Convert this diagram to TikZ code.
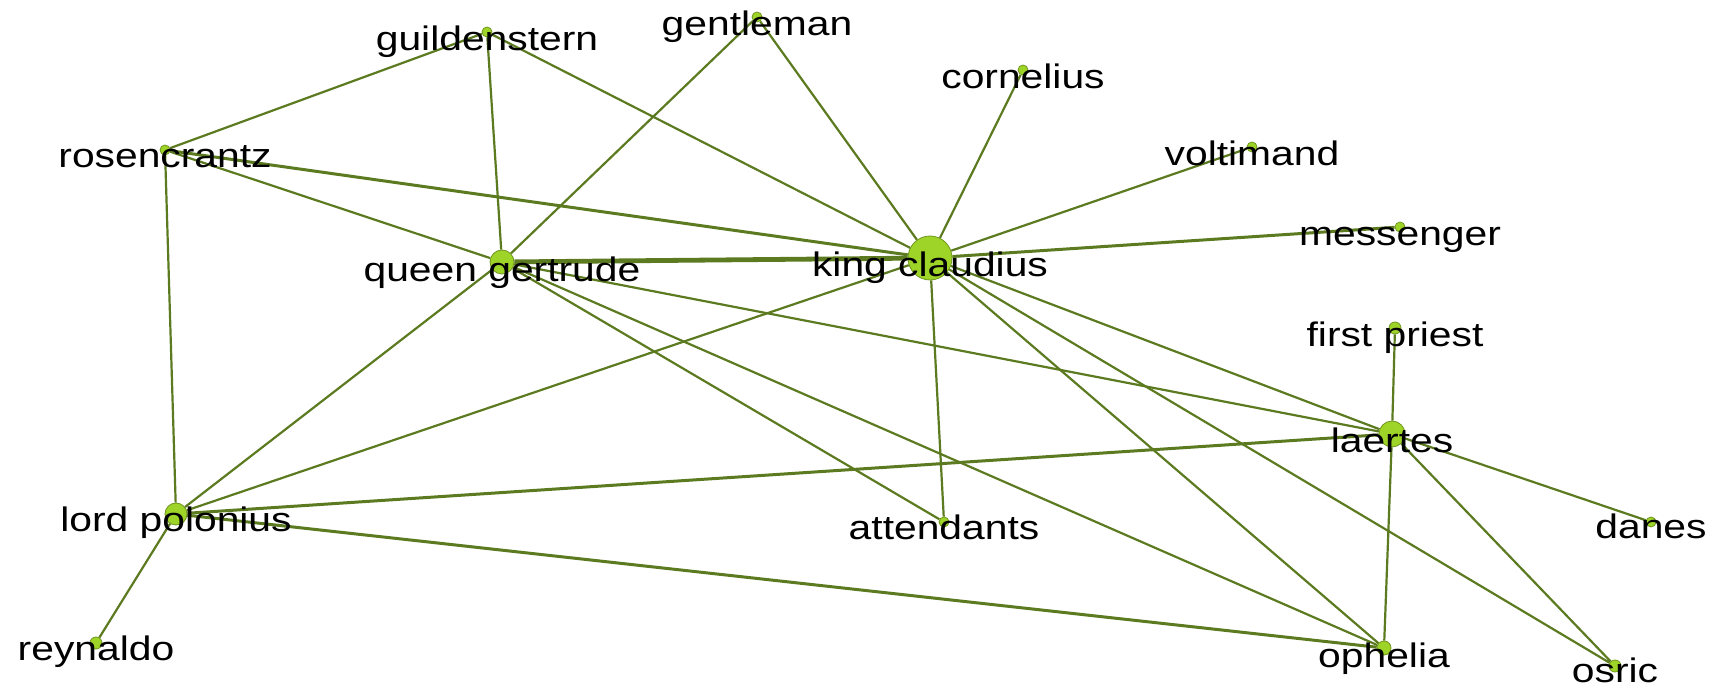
\documentclass[tikz,border=0pt]{standalone}
\usepackage{fontspec}
\newfontfamily\namefont[FakeStretch=1.2]{Liberation Sans}
\usetikzlibrary{backgrounds}
\definecolor{tiegreen}{RGB}{92,122,32}
\definecolor{dotgreen}{RGB}{158,212,40}
\definecolor{dotrim}{RGB}{112,150,30}
\tikzset{
    tie/.style={draw=tiegreen, line width=1.1pt},
    heavytie/.style={draw=tiegreen, line width=2.4pt},
    midtie/.style={draw=tiegreen, line width=1.5pt},
    actor/.style={circle, fill=dotgreen, draw=dotrim, line width=0.4pt, inner sep=0pt, minimum size=#1},
    actor/.default=5pt,
    actorname/.style={anchor=base, font=\namefont\fontsize{17}{20}\selectfont, text=black, inner sep=0pt},
}
\begin{document}
\begin{tikzpicture}[x=0.5pt,y=-0.5pt]
		\useasboundingbox (0,0) rectangle (1713,694);
		% characters
		\node[actor=22pt] (king) at (930,258) {};
		\node[actor=12pt] (queen) at (502,262) {};
		\node[actor=13pt] (laertes) at (1392,434) {};
		\node[actor=11pt] (polonius) at (176,514) {};
		\node[actor=7pt] (ophelia) at (1384,648) {};
		\node[actor] (guild) at (487,32) {};
		\node[actor] (gentleman) at (757,17) {};
		\node[actor] (rosen) at (165,150) {};
		\node[actor] (cornelius) at (1023,70) {};
		\node[actor] (voltimand) at (1252,147) {};
		\node[actor] (messenger) at (1400,227) {};
		\node[actor=6pt] (priest) at (1395,328) {};
		\node[actor] (attendants) at (944,522) {};
		\node[actor] (danes) at (1651,522) {};
		\node[actor=6pt] (osric) at (1615,666) {};
		\node[actor=6pt] (reynaldo) at (96,643) {};
		% ties
		\begin{scope}[on background layer]
		\draw[tie] (guild) -- (rosen);
		\draw[tie] (guild) -- (queen);
		\draw[tie] (guild) -- (king);
		\draw[tie] (gentleman) -- (king);
		\draw[tie] (gentleman) -- (queen);
		\draw[tie] (rosen) -- (queen);
		\draw[midtie] (rosen) -- (king);
		\draw[tie] (rosen) -- (polonius);
		\draw[heavytie] (queen) -- (king);
		\draw[tie] (queen) -- (laertes);
		\draw[tie] (queen) -- (attendants);
		\draw[tie] (queen) -- (ophelia);
		\draw[tie] (queen) -- (polonius);
		\draw[tie] (king) -- (cornelius);
		\draw[tie] (king) -- (voltimand);
		\draw[midtie] (king) -- (messenger);
		\draw[tie] (king) -- (attendants);
		\draw[tie] (king) -- (laertes);
		\draw[tie] (king) -- (ophelia);
		\draw[tie] (king) -- (osric);
		\draw[tie] (king) -- (polonius);
		\draw[tie] (laertes) -- (priest);
		\draw[tie] (laertes) -- (danes);
		\draw[tie] (laertes) -- (ophelia);
		\draw[tie] (laertes) -- (osric);
		\draw[midtie] (laertes) -- (polonius);
		\draw[tie] (polonius) -- (reynaldo);
		\draw[midtie] (polonius) -- (ophelia);
		\end{scope}
		% names
		\node[actorname] (kingname) at ([yshift=-9.5pt]king.center) {king claudius};
		\node[actorname] (queenname) at ([yshift=-10pt]queen.center) {queen gertrude};
		\node[actorname] (laertesname) at ([yshift=-9.5pt]laertes.center) {laertes};
		\node[actorname] (poloniusname) at ([yshift=-9pt]polonius.center) {lord polonius};
		\node[actorname] (opheliananame) at ([yshift=-9.5pt]ophelia.center) {ophelia};
		\node[actorname] (guildname) at ([yshift=-9.5pt]guild.center) {guildenstern};
		\node[actorname] (gentlemanname) at ([yshift=-9.5pt]gentleman.center) {gentleman};
		\node[actorname] (rosenname) at ([yshift=-9pt]rosen.center) {rosencrantz};
		\node[actorname] (corneliusname) at ([yshift=-9.5pt]cornelius.center) {cornelius};
		\node[actorname] (voltimandname) at ([yshift=-9.5pt]voltimand.center) {voltimand};
		\node[actorname] (messengername) at ([yshift=-9.5pt]messenger.center) {messenger};
		\node[actorname] (priestname) at ([yshift=-9.5pt]priest.center) {first priest};
		\node[actorname] (attendantsname) at ([yshift=-9pt]attendants.center) {attendants};
		\node[actorname] (danesname) at ([yshift=-8.5pt]danes.center) {danes};
		\node[actorname] (osricname) at ([yshift=-8pt]osric.center) {osric};
		\node[actorname] (reynaldoname) at ([yshift=-9pt]reynaldo.center) {reynaldo};
	\end{tikzpicture}
\end{document}
